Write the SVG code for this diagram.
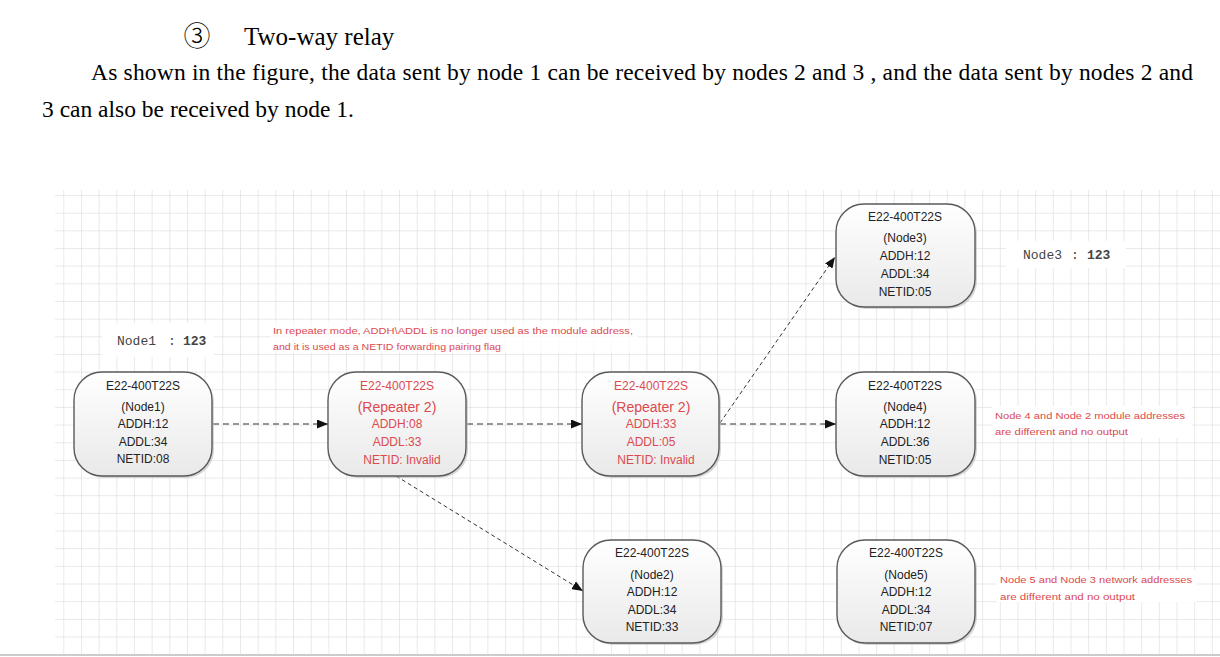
<svg xmlns="http://www.w3.org/2000/svg" width="1220" height="657" viewBox="0 0 1220 657">
<style>
.title{font-family:"Liberation Serif","Times New Roman",serif;fill:#000}
.nt{font-family:"Liberation Sans",Arial,sans-serif;font-size:12px;fill:#222;text-anchor:middle}
.rt{font-family:"Liberation Sans",Arial,sans-serif;font-size:12px;fill:#dc4a4f;text-anchor:middle}
.rp{font-family:"Liberation Sans",Arial,sans-serif;font-size:14px;fill:#dc4a4f;text-anchor:middle}
.ann{font-family:"Liberation Sans",Arial,sans-serif;font-size:9.5px;fill:#dc4a4f}
.lbl{font-family:"Liberation Mono","Courier New",monospace;font-size:13px;fill:#444}
.box{fill:url(#g);stroke:#5a5a5a;stroke-width:1.4}
.sh{fill:#bdbdbd;opacity:.6}
.c{fill:none;stroke:#333;stroke-width:1.1;stroke-dasharray:6 4}
.cd{fill:none;stroke:#333;stroke-width:1;stroke-dasharray:4 3}
</style>
<defs>
<pattern id="grid" x="63.3" y="195" width="17.67" height="17.66" patternUnits="userSpaceOnUse">
<path d="M0 0V17.66M0 0H17.67" fill="none" stroke="#d4d4d4" stroke-width="1"/>
</pattern>
<linearGradient id="g" x1="0" y1="0" x2="0" y2="1">
<stop offset="0" stop-color="#ffffff"/>
<stop offset="1" stop-color="#e9e9e9"/>
</linearGradient>
<marker id="ah" markerWidth="11" markerHeight="9" refX="11" refY="4.5" orient="auto" markerUnits="userSpaceOnUse">
<path d="M0 0L11 4.5L0 9Z" fill="#111"/>
</marker>
</defs>
<rect width="1220" height="657" fill="#fff"/>
<text x="197" y="46" font-size="27" text-anchor="middle" font-family="'Noto Sans CJK SC','Noto Sans CJK JP',sans-serif" font-weight="300" fill="#000">③</text>
<text class="title" x="244" y="45" font-size="25">Two-way relay</text>
<text class="title" x="91" y="80" font-size="23.5" textLength="1102" lengthAdjust="spacing">As shown in the figure, the data sent by node 1 can be received by nodes 2 and 3 , and the data sent by nodes 2 and</text>
<text class="title" x="42" y="117" font-size="23.5">3 can also be received by node 1.</text>
<rect x="55" y="190" width="1165" height="464" fill="url(#grid)"/>
<line x1="0" y1="655" x2="1220" y2="655" stroke="#9a9a9a" stroke-width="1.2"/>
<g id="labels">
<rect x="102" y="323" width="112" height="34" fill="#fff"/>
<text class="lbl" x="117" y="345">Node1</text>
<text class="lbl" x="168" y="345">:</text>
<text class="lbl" x="183" y="345" font-weight="bold" font-size="12">123</text>
<rect x="1006" y="241" width="120" height="27" fill="#fff"/>
<text class="lbl" x="1023" y="259">Node3</text>
<text class="lbl" x="1071" y="259">:</text>
<text class="lbl" x="1087" y="259" font-weight="bold" font-size="12">123</text>
<rect x="270" y="321" width="368" height="32" fill="#fff" opacity=".75"/>
<text class="ann" x="273" y="334" textLength="360" lengthAdjust="spacingAndGlyphs">In repeater mode, ADDH\ADDL is no longer used as the module address,</text>
<text class="ann" x="273" y="350" textLength="228" lengthAdjust="spacingAndGlyphs">and it is used as a NETID forwarding pairing flag</text>
<rect x="992" y="406" width="200" height="32" fill="#fff"/>
<text class="ann" x="995" y="419" textLength="190" lengthAdjust="spacingAndGlyphs">Node 4 and Node 2 module addresses</text>
<text class="ann" x="995" y="435" textLength="133" lengthAdjust="spacingAndGlyphs">are different and no output</text>
<rect x="997" y="570" width="200" height="32" fill="#fff"/>
<text class="ann" x="1000" y="583" textLength="192" lengthAdjust="spacingAndGlyphs">Node 5 and Node 3 network addresses</text>
<text class="ann" x="1000" y="600" textLength="135" lengthAdjust="spacingAndGlyphs">are different and no output</text>
</g>
<g id="connectors">
<line class="c" x1="213" y1="424" x2="328" y2="424" marker-end="url(#ah)"/>
<line class="c" x1="467" y1="424" x2="582" y2="424" marker-end="url(#ah)"/>
<line class="c" x1="720" y1="424" x2="836" y2="424" marker-end="url(#ah)"/>
<line class="cd" x1="720" y1="423" x2="835" y2="257" marker-end="url(#ah)"/>
<line class="cd" x1="396" y1="476" x2="583" y2="591" marker-end="url(#ah)"/>
</g>
<g id="node1">
<rect class="sh" x="76" y="374" width="138" height="104" rx="28"/>
<rect class="box" x="74" y="372" width="138" height="104" rx="28"/>
<text class="nt" x="143" y="390">E22-400T22S</text>
<text class="nt" x="143" y="411">(Node1)</text>
<text class="nt" x="143" y="428">ADDH:12</text>
<text class="nt" x="143" y="446">ADDL:34</text>
<text class="nt" x="143" y="463">NETID:08</text>
</g>
<g id="repeaterA">
<rect class="sh" x="330" y="374" width="138" height="104" rx="28"/>
<rect class="box" x="328" y="372" width="138" height="104" rx="28"/>
<text class="rt" x="397" y="390">E22-400T22S</text>
<text class="rp" x="397" y="412">(Repeater 2)</text>
<text class="rt" x="397" y="428">ADDH:08</text>
<text class="rt" x="397" y="446">ADDL:33</text>
<text class="rt" x="402" y="464">NETID: Invalid</text>
</g>
<g id="repeaterB">
<rect class="sh" x="584" y="374" width="137" height="104" rx="28"/>
<rect class="box" x="582" y="372" width="137" height="104" rx="28"/>
<text class="rt" x="651" y="390">E22-400T22S</text>
<text class="rp" x="651" y="412">(Repeater 2)</text>
<text class="rt" x="651" y="428">ADDH:33</text>
<text class="rt" x="651" y="446">ADDL:05</text>
<text class="rt" x="656" y="464">NETID: Invalid</text>
</g>
<g id="node3">
<rect class="sh" x="838" y="206" width="139" height="103" rx="28"/>
<rect class="box" x="836" y="204" width="139" height="103" rx="28"/>
<text class="nt" x="905" y="221">E22-400T22S</text>
<text class="nt" x="905" y="242">(Node3)</text>
<text class="nt" x="905" y="260">ADDH:12</text>
<text class="nt" x="905" y="278">ADDL:34</text>
<text class="nt" x="905" y="296">NETID:05</text>
</g>
<g id="node4">
<rect class="sh" x="838" y="374" width="139" height="104" rx="28"/>
<rect class="box" x="836" y="372" width="139" height="104" rx="28"/>
<text class="nt" x="905" y="390">E22-400T22S</text>
<text class="nt" x="905" y="411">(Node4)</text>
<text class="nt" x="905" y="428">ADDH:12</text>
<text class="nt" x="905" y="446">ADDL:36</text>
<text class="nt" x="905" y="464">NETID:05</text>
</g>
<g id="node2">
<rect class="sh" x="585" y="542" width="138" height="103" rx="28"/>
<rect class="box" x="583" y="540" width="138" height="103" rx="28"/>
<text class="nt" x="652" y="557">E22-400T22S</text>
<text class="nt" x="652" y="579">(Node2)</text>
<text class="nt" x="652" y="596">ADDH:12</text>
<text class="nt" x="652" y="614">ADDL:34</text>
<text class="nt" x="652" y="631">NETID:33</text>
</g>
<g id="node5">
<rect class="sh" x="839" y="542" width="138" height="103" rx="28"/>
<rect class="box" x="837" y="540" width="138" height="103" rx="28"/>
<text class="nt" x="906" y="557">E22-400T22S</text>
<text class="nt" x="906" y="579">(Node5)</text>
<text class="nt" x="906" y="596">ADDH:12</text>
<text class="nt" x="906" y="614">ADDL:34</text>
<text class="nt" x="906" y="631">NETID:07</text>
</g>
</svg>
